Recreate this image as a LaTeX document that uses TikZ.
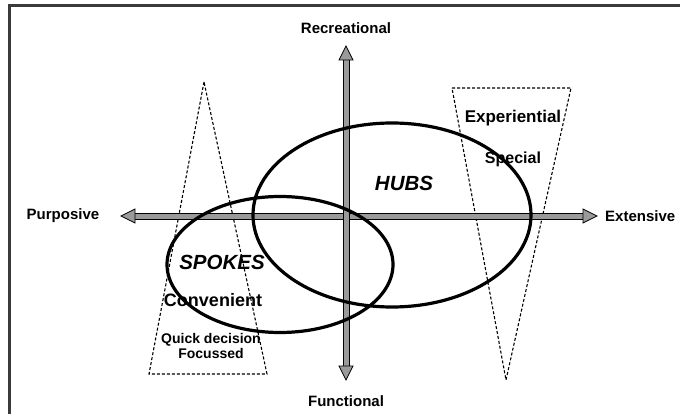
\documentclass[tikz,border=0pt]{standalone}
\usepackage{fontspec}
\setmainfont{Liberation Sans}
\usetikzlibrary{shapes.geometric}
\definecolor{framegray}{HTML}{3A3A3A}
\definecolor{axisgray}{HTML}{9A9A9A}
\begin{document}
\begin{tikzpicture}[x=1pt,y=-1pt,
  frameline/.style={draw=framegray,line width=2.4pt},
  shaft/.style={fill=axisgray,draw=black,line width=0.8pt},
  head/.style={fill=axisgray,draw=black,line width=0.8pt,line join=miter},
  zone/.style={draw=black,line width=1.1pt,dash pattern=on 3pt off 2pt},
  ring/.style={ellipse,draw=black,line width=3.2pt,inner sep=0pt},
  lbl/.style={font=\bfseries\fontsize{15}{18}\selectfont,inner sep=0pt},
  big/.style={font=\bfseries\itshape\fontsize{20.5}{24}\selectfont,inner sep=0pt},
  mid/.style={font=\bfseries\fontsize{#1}{#1}\selectfont,inner sep=0pt},
  small/.style={font=\bfseries\fontsize{14}{15}\selectfont,inner sep=0pt,align=center}
]
\useasboundingbox (0,0) rectangle (680,414);
\fill[white] (0,0) rectangle (680,414);
% frame
\draw[frameline] (9.5,430) -- (9.5,5.5) -- (700,5.5);
% dashed zones
\draw[zone] (204,82) -- (149,374) -- (267,374) -- cycle;
\draw[zone] (452,88) -- (571,88) -- (506,380) -- cycle;
% axes
\coordinate (L) at (121,216);
\coordinate (R) at (597,216);
\coordinate (T) at (346,46);
\coordinate (B) at (346,380);
\draw[shaft] ([shift={(12,-3)}]L) rectangle ([shift={(-12,3)}]R);
\draw[shaft] ([shift={(-3,12)}]T) rectangle ([shift={(3,-12)}]B);
\draw[head] (L) -- ([shift={(14,-7)}]L) -- ([shift={(14,7)}]L) -- cycle;
\draw[head] (R) -- ([shift={(-14,-7)}]R) -- ([shift={(-14,7)}]R) -- cycle;
\draw[head] (T) -- ([shift={(-7,14)}]T) -- ([shift={(7,14)}]T) -- cycle;
\draw[head] (B) -- ([shift={(-7,-14)}]B) -- ([shift={(7,-14)}]B) -- cycle;
% ellipses
\node[ring,minimum width=278pt,minimum height=184pt] (hubs) at (392,215) {};
\node[ring,minimum width=226pt,minimum height=136pt] (spokes) at (280,264.5) {};
% labels
\node[lbl] (rec) at (346,28) {Recreational};
\node[lbl] (fun) at (346,401) {Functional};
\node[lbl] (pur) at (63,216) {Purposive};
\node[lbl,anchor=west] (ext) at (605,216) {Extensive};
\node[big] (hubst) at (404,183) {HUBS};
\node[big] (spokest) at (222,262) {SPOKES};
\node[mid=18] (conv) at (213,300) {Convenient};
\node[mid=17] (expe) at (513,118) {Experiential};
\node[mid=16] (spec) at (513,159) {Special};
\node[small] (quick) at (211,345.5) {Quick decision\\Focussed};
\end{tikzpicture}
\end{document}
